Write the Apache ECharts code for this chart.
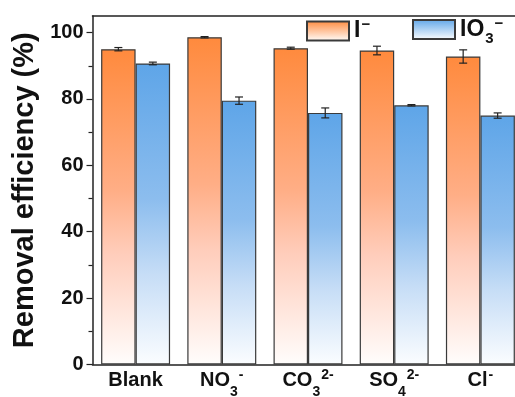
<!DOCTYPE html>
<html>
<head>
<meta charset="utf-8">
<script src="https://cdn.jsdelivr.net/npm/echarts@6/dist/echarts.min.js"></script>
<style>
  html, body { margin: 0; padding: 0; background: #fff; }
  #chart { width: 515px; height: 397px; }
</style>
</head>
<body>
<div id="chart"></div>
<script>
// Anions tested against iodide / iodate removal
const categories = ['Blank', 'NO3', 'CO3', 'SO4', 'Cl'];
const iodideValues = [95.0, 98.6, 95.3, 94.6, 92.8];
const iodideErrors = [0.5, 0.2, 0.3, 1.3, 2.0];
const iodateValues = [90.7, 79.5, 75.8, 78.1, 75.0];
const iodateErrors = [0.4, 1.1, 1.5, 0.2, 0.8];
const majorTicks = [0, 20, 40, 60, 80, 100];
const minorTicks = [10, 30, 50, 70, 90];

const FONT = 'Liberation Sans, Arial, sans-serif';
const EDGE = '#3a3a3a';
const INK = '#111';

// Category labels with chemical sub/superscripts
const catLabel = {
  Blank: '{b|Blank}',
  NO3: '{b|NO}{sub|3}{sup|-}',
  CO3: '{b|CO}{sub|3}{sup|2-}',
  SO4: '{b|SO}{sub|4}{sup|2-}',
  Cl: '{b|Cl}{sup|-}'
};

const orangeFill = new echarts.graphic.LinearGradient(0, 0, 0, 1, [
  { offset: 0, color: '#FF8A3D' },
  { offset: 0.45, color: '#FFAE86' },
  { offset: 0.65, color: '#FFCDBB' },
  { offset: 1, color: '#FFFDFC' }
]);
const blueFill = new echarts.graphic.LinearGradient(0, 0, 0, 1, [
  { offset: 0, color: '#5EA5E8' },
  { offset: 0.45, color: '#8CBDEE' },
  { offset: 0.7, color: '#C6DDF6' },
  { offset: 1, color: '#FBFDFF' }
]);
const orangeKey = new echarts.graphic.LinearGradient(0, 0, 0, 1, [
  { offset: 0, color: '#FF8A3D' },
  { offset: 1, color: '#FFFFFF' }
]);
const blueKey = new echarts.graphic.LinearGradient(0, 0, 0, 1, [
  { offset: 0, color: '#5EA5E8' },
  { offset: 1, color: '#FFFFFF' }
]);

function errorSeries(name, values, errors, side) {
  return {
    type: 'custom',
    name: name + '-err',
    xAxisIndex: 0,
    yAxisIndex: 0,
    z: 5,
    data: values.map((v, i) => [i, v, errors[i]]),
    encode: { x: 0, y: 1 },
    renderItem: function (params, api) {
      const idx = api.value(0);
      const v = api.value(1);
      const e = api.value(2);
      const band = api.size([1, 0])[0];
      const dx = side * band * 0.2;
      const hi = api.coord([idx, v + e]);
      const lo = api.coord([idx, v - e]);
      const x = hi[0] + dx;
      const cap = 4;
      const style = { stroke: '#222', lineWidth: 1.2, fill: null };
      return {
        type: 'group',
        children: [
          { type: 'line', shape: { x1: x, y1: hi[1], x2: x, y2: lo[1] }, style: style },
          { type: 'line', shape: { x1: x - cap, y1: hi[1], x2: x + cap, y2: hi[1] }, style: style },
          { type: 'line', shape: { x1: x - cap, y1: lo[1], x2: x + cap, y2: lo[1] }, style: style }
        ]
      };
    }
  };
}

const legendRich = {
  b: { fontFamily: FONT, fontWeight: 'bold', fontSize: 23, color: INK, lineHeight: 34 },
  sup: { fontFamily: FONT, fontWeight: 'bold', fontSize: 15, color: INK, lineHeight: 15, padding: [0, 0, 12, 1] },
  sub: { fontFamily: FONT, fontWeight: 'bold', fontSize: 15, color: INK, lineHeight: 15, padding: [19, 0, 0, 1] }
};

const chart = echarts.init(document.getElementById('chart'), null, { renderer: 'canvas' });
chart.setOption({
  animation: false,
  backgroundColor: '#ffffff',
  grid: { left: 92.5, top: 16, width: 431, height: 348.5, outerBoundsMode: 'none', containLabel: false },
  legend: [
    {
      data: [{ name: 'I', itemStyle: { color: orangeKey } }],
      left: 306, top: 17.5, padding: 0, icon: 'rect', itemWidth: 42, itemHeight: 19, itemGap: 0,
      formatter: () => '{b|I}{sup|\u2212}',
      textStyle: { rich: legendRich }
    },
    {
      data: [{ name: 'IO3', itemStyle: { color: blueKey } }],
      left: 412, top: 12.5, padding: 0, icon: 'rect', itemWidth: 42, itemHeight: 19, itemGap: 0,
      formatter: () => '{b|IO}{sub|3}{sup|\u2212}',
      textStyle: { rich: legendRich }
    }
  ],
  xAxis: [
    {
      type: 'category',
      data: categories,
      position: 'bottom',
      axisLine: { show: true, onZero: false, lineStyle: { color: '#222', width: 1.5 } },
      axisTick: { show: false },
      axisLabel: {
        interval: 0,
        hideOverlap: false,
        margin: -3,
        formatter: (v) => catLabel[v],
        rich: {
          b: { fontFamily: FONT, fontWeight: 'bold', fontSize: 20, color: INK, lineHeight: 38 },
          sub: { fontFamily: FONT, fontWeight: 'bold', fontSize: 14, color: INK, lineHeight: 14, padding: [24, 0, 0, 0] },
          sup: { fontFamily: FONT, fontWeight: 'bold', fontSize: 14, color: INK, lineHeight: 14, padding: [0, 0, 10, 1] }
        }
      }
    },
    {
      type: 'category',
      data: categories,
      position: 'top',
      axisLine: { show: true, onZero: false, lineStyle: { color: '#222', width: 1.5 } },
      axisTick: { show: false },
      axisLabel: { show: false }
    }
  ],
  yAxis: [
    {
      type: 'value',
      min: 0, max: 105, interval: 20,
      name: 'Removal efficiency (%)',
      nameLocation: 'middle',
      nameGap: 50,
      nameTextStyle: { fontFamily: FONT, fontWeight: 'bold', fontSize: 29, color: INK },
      axisLine: { show: true, lineStyle: { color: '#222', width: 1.5 } },
      axisTick: { show: true, length: 6, customValues: majorTicks, lineStyle: { color: '#222', width: 1.2 } },
      axisLabel: { customValues: majorTicks, margin: 9, fontFamily: FONT, fontWeight: 'bold', fontSize: 20, color: INK },
      splitLine: { show: false }
    },
    {
      type: 'value',
      min: 0, max: 105, interval: 20,
      position: 'left',
      axisLine: { show: false },
      axisTick: { show: true, length: 4, customValues: minorTicks, lineStyle: { color: '#222', width: 1.2 } },
      axisLabel: { show: false },
      splitLine: { show: false }
    }
  ],
  series: [
    {
      name: 'I', type: 'bar', data: iodideValues,
      barWidth: '40%', barGap: '0%',
      itemStyle: { color: orangeFill, borderColor: EDGE, borderWidth: 1.2 }
    },
    {
      name: 'IO3', type: 'bar', data: iodateValues,
      barWidth: '40%', barGap: '0%',
      itemStyle: { color: blueFill, borderColor: EDGE, borderWidth: 1.2 }
    },
    errorSeries('I', iodideValues, iodideErrors, -1),
    errorSeries('IO3', iodateValues, iodateErrors, 1)
  ]
});
</script>
</body>
</html>
